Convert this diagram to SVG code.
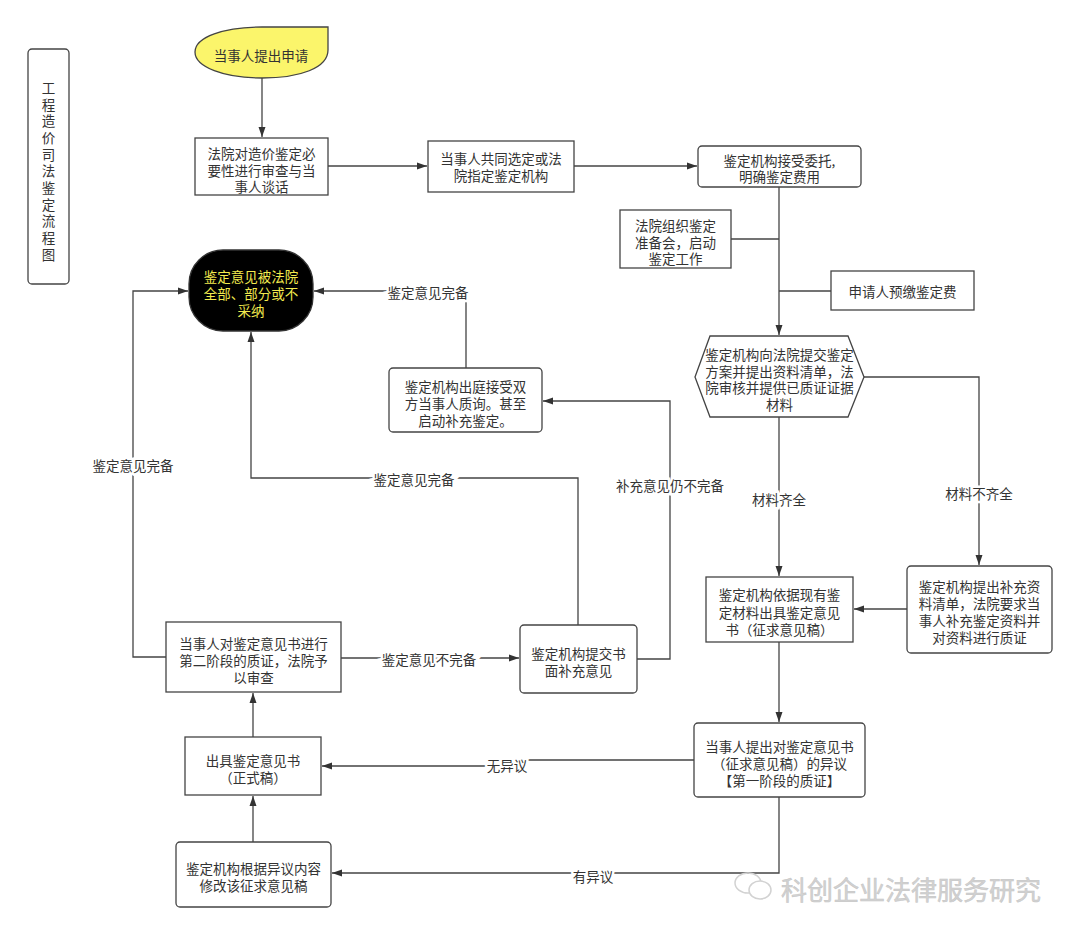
<svg xmlns="http://www.w3.org/2000/svg" width="1080" height="935" viewBox="0 0 1080 935">
<style>
text{font-family:"Noto Sans CJK SC","Noto Sans",sans-serif;font-size:13.5px;fill:#333;text-anchor:middle;dominant-baseline:central}
.box{fill:#fff;stroke:#444;stroke-width:1.3}
.ln{fill:none;stroke:#444;stroke-width:1.3}
.lbl{stroke:#fff;stroke-width:5;paint-order:stroke}
.vt{writing-mode:vertical-rl;text-anchor:start;letter-spacing:3.2px}
.yl{fill:#f2ea4f}
.wm{font-size:26px;fill:#d2d2d2;stroke:#c4c4c4;stroke-width:0.5}
</style>
<defs>
<marker id="ar" viewBox="0 0 10 10" refX="10" refY="5" markerWidth="10" markerHeight="10" markerUnits="userSpaceOnUse" orient="auto">
<path d="M0,1.5 L10,5 L0,8.5 Z" fill="#333"/>
</marker>
</defs>
<rect width="1080" height="935" fill="#fff"/>

<g id="connectors">
<path class="ln" d="M262,78 V137" marker-end="url(#ar)"/>
<path class="ln" d="M328,166 H427" marker-end="url(#ar)"/>
<path class="ln" d="M574,166 H697" marker-end="url(#ar)"/>
<path class="ln" d="M779,187 V335" marker-end="url(#ar)"/>
<path class="ln" d="M731,239 H779"/>
<path class="ln" d="M831,291 H779"/>
<path class="ln" d="M864,377 H979 V565" marker-end="url(#ar)"/>
<path class="ln" d="M779,417 V576" marker-end="url(#ar)"/>
<path class="ln" d="M907,609 H854" marker-end="url(#ar)"/>
<path class="ln" d="M779,642 V722" marker-end="url(#ar)"/>
<path class="ln" d="M694,760 H507 V766 H322" marker-end="url(#ar)"/>
<path class="ln" d="M779,797 V873 H332" marker-end="url(#ar)"/>
<path class="ln" d="M253,842 V796" marker-end="url(#ar)"/>
<path class="ln" d="M253,737 V693" marker-end="url(#ar)"/>
<path class="ln" d="M341,658 H519" marker-end="url(#ar)"/>
<path class="ln" d="M166,657 H133 V291 H188" marker-end="url(#ar)"/>
<path class="ln" d="M578,625 V478 H251 V332" marker-end="url(#ar)"/>
<path class="ln" d="M637,659 H670 V401 H543" marker-end="url(#ar)"/>
<path class="ln" d="M466,368 V291 H314" marker-end="url(#ar)"/>
<text class="lbl" x="979" y="493">材料不齐全</text>
<text class="lbl" x="779" y="499">材料齐全</text>
<text class="lbl" x="507" y="765">无异议</text>
<text class="lbl" x="593" y="876">有异议</text>
<text class="lbl" x="429" y="659">鉴定意见不完备</text>
<text class="lbl" x="133" y="465">鉴定意见完备</text>
<text class="lbl" x="414" y="479">鉴定意见完备</text>
<text class="lbl" x="670" y="485">补充意见仍不完备</text>
<text class="lbl" x="428" y="292">鉴定意见完备</text>
</g>

<g id="title">
<rect class="box" x="28" y="49" width="41" height="235" rx="4"/>
<text class="vt" x="48.5" y="81">工程造价司法鉴定流程图</text>
</g>

<g id="start">
<path d="M262,27 H328 V50 C328,68 300,78 262,78 C224,78 195,67 195,52 C195,37 224,27 262,27 Z" fill="#fbf56b" stroke="#444" stroke-width="1.3"/>
<text x="261" y="55">当事人提出申请</text>
</g>

<g id="n1">
<rect class="box" x="195" y="138" width="133" height="57"/>
<text x="261.5" y="153">法院对造价鉴定必<tspan x="261.5" dy="16.5">要性进行审查与当</tspan><tspan x="261.5" dy="16.5">事人谈话</tspan></text>
</g>

<g id="n2">
<rect class="box" x="428" y="141" width="146" height="51"/>
<text x="501" y="158">当事人共同选定或法<tspan x="501" dy="17">院指定鉴定机构</tspan></text>
</g>

<g id="n3">
<rect class="box" x="698" y="146" width="163" height="41" rx="4"/>
<text x="779.5" y="160">鉴定机构接受委托,<tspan x="779.5" dy="16">明确鉴定费用</tspan></text>
</g>

<g id="n4">
<rect class="box" x="620" y="210" width="111" height="58"/>
<text x="675.5" y="225">法院组织鉴定<tspan x="675.5" dy="16.5">准备会，启动</tspan><tspan x="675.5" dy="16.5">鉴定工作</tspan></text>
</g>

<g id="n5">
<rect class="box" x="831" y="271" width="143" height="39"/>
<text x="902.5" y="291">申请人预缴鉴定费</text>
</g>

<g id="n6">
<path class="box" d="M710,336 H848 L864,377 L848,417 H710 L695,377 Z"/>
<text x="779.5" y="354">鉴定机构向法院提交鉴定<tspan x="779.5" dy="16.7">方案并提出资料清单，法</tspan><tspan x="779.5" dy="16.7">院审核并提供已质证证据</tspan><tspan x="779.5" dy="16.7">材料</tspan></text>
</g>

<g id="n7">
<rect class="box" x="706" y="577" width="147" height="65"/>
<text x="779.5" y="594">鉴定机构依据现有鉴<tspan x="779.5" dy="17.5">定材料出具鉴定意见</tspan><tspan x="779.5" dy="17.5">书（征求意见稿）</tspan></text>
</g>

<g id="n8">
<rect class="box" x="907" y="566" width="145" height="87" rx="4"/>
<text x="979.5" y="586">鉴定机构提出补充资<tspan x="979.5" dy="17">料清单，法院要求当</tspan><tspan x="979.5" dy="17">事人补充鉴定资料并</tspan><tspan x="979.5" dy="17">对资料进行质证</tspan></text>
</g>

<g id="n9">
<rect class="box" x="694" y="723" width="171" height="74" rx="4"/>
<text x="779.5" y="746">当事人提出对鉴定意见书<tspan x="779.5" dy="17">（征求意见稿）的异议</tspan><tspan x="779.5" dy="17">【第一阶段的质证】</tspan></text>
</g>

<g id="n10">
<rect class="box" x="176" y="842" width="155" height="65" rx="4"/>
<text x="253.5" y="868">鉴定机构根据异议内容<tspan x="253.5" dy="17">修改该征求意见稿</tspan></text>
</g>

<g id="n11">
<rect class="box" x="185" y="737" width="136" height="58"/>
<text x="253" y="760">出具鉴定意见书<tspan x="253" dy="17">（正式稿）</tspan></text>
</g>

<g id="n12">
<rect class="box" x="166" y="622" width="175" height="70"/>
<text x="253.5" y="643">当事人对鉴定意见书进行<tspan x="253.5" dy="17">第二阶段的质证，法院予</tspan><tspan x="253.5" dy="17">以审查</tspan></text>
</g>

<g id="n13">
<rect class="box" x="520" y="625" width="117" height="68" rx="4"/>
<text x="578.5" y="653">鉴定机构提交书<tspan x="578.5" dy="17">面补充意见</tspan></text>
</g>

<g id="n14">
<rect class="box" x="389" y="368" width="153" height="64" rx="4"/>
<text x="465.5" y="386">鉴定机构出庭接受双<tspan x="465.5" dy="17">方当事人质询。甚至</tspan><tspan x="465.5" dy="17">启动补充鉴定。</tspan></text>
</g>

<g id="end">
<rect x="189" y="250" width="124" height="81" rx="34" fill="#000" stroke="#333" stroke-width="1.3"/>
<text class="yl" x="251" y="276">鉴定意见被法院<tspan x="251" dy="17">全部、部分或不</tspan><tspan x="251" dy="17">采纳</tspan></text>
</g>

<g id="watermark">
<ellipse cx="748" cy="883" rx="13" ry="10" fill="none" stroke="#d2d2d2" stroke-width="1.5"/>
<ellipse cx="760" cy="890" rx="11" ry="9" fill="#fff" stroke="#d2d2d2" stroke-width="1.5"/>
<text class="wm" x="911" y="888">科创企业法律服务研究</text>
</g>
</svg>
